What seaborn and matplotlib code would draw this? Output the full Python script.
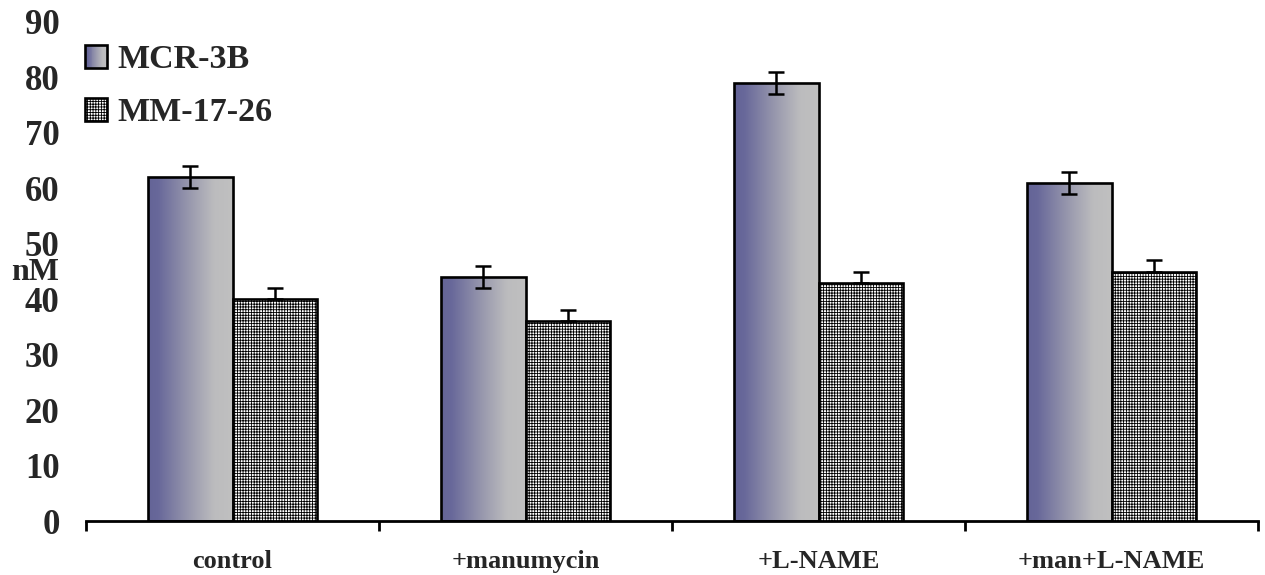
import numpy as np
import pandas as pd
import matplotlib
matplotlib.use("Agg")
import matplotlib.pyplot as plt
import seaborn as sns
from matplotlib.colors import LinearSegmentedColormap
from matplotlib.patches import Rectangle, Patch
from matplotlib.legend_handler import HandlerBase

# ---- data -------------------------------------------------------------
treatments = ["control", "+manumycin", "+L-NAME", "+man+L-NAME"]
series = ["MCR-3B", "MM-17-26"]
mcr_values = [62, 44, 79, 61]
mcr_errors = [2, 2, 2, 2]
mm_values = [40, 36, 43, 45]
mm_errors = [2, 2, 2, 2]
y_ticks = [0, 10, 20, 30, 40, 50, 60, 70, 80, 90]

df = pd.DataFrame({
    "treatment": treatments * 2,
    "line": [series[0]] * 4 + [series[1]] * 4,
    "value": mcr_values + mm_values,
})

# ---- style ------------------------------------------------------------
sns.set_style("white")
plt.rcParams["font.family"] = ["Liberation Serif", "DejaVu Serif"]
plt.rcParams["font.weight"] = "bold"
plt.rcParams["hatch.linewidth"] = 0.6
plt.rcParams["hatch.color"] = "black"

grad_cmap = LinearSegmentedColormap.from_list(
    "bluegray",
    [(0.0, "#646497"), (0.12, "#68689a"), (0.5, "#9a9aae"),
     (0.78, "#bcbcbe"), (1.0, "#c0c0c0")])
HATCH = "++++++"
EDGE_LW = 1.9

fig = plt.figure(figsize=(12.65, 5.75), dpi=100)
ax = fig.add_axes([86 / 1265, 54 / 575, 1172 / 1265, 499 / 575])

sns.barplot(data=df, x="treatment", y="value", hue="line",
            order=treatments, hue_order=series, width=0.58, gap=0,
            errorbar=None, palette=["white", "white"], ax=ax,
            edgecolor="black", linewidth=EDGE_LW, legend=False)

n = len(treatments)
bars = ax.patches[:2 * n]
mcr_bars = bars[:n]
mm_bars = bars[n:]

# gradient fill for the first series, fine grid for the second
grad = np.linspace(0, 1, 256).reshape(1, -1)
for b in mcr_bars:
    x0, y0 = b.get_x(), b.get_y()
    w, h = b.get_width(), b.get_height()
    b.set_facecolor("none")
    b.set_zorder(3)
    im = ax.imshow(grad, extent=[x0, x0 + w, y0, y0 + h], aspect="auto",
                   cmap=grad_cmap, zorder=2, interpolation="bilinear")
    im.set_clip_path(b)
for b in mm_bars:
    b.set_facecolor("white")
    b.set_hatch(HATCH)
    b.set_zorder(3)

# error bars
mcr_x = [b.get_x() + b.get_width() / 2 for b in mcr_bars]
mm_x = [b.get_x() + b.get_width() / 2 for b in mm_bars]
ax.errorbar(mcr_x, mcr_values, yerr=mcr_errors, fmt="none", ecolor="black",
            elinewidth=1.8, capsize=5.8, capthick=1.8, zorder=4)
ax.errorbar(mm_x, mm_values, yerr=[[0] * n, mm_errors], fmt="none",
            ecolor="black", elinewidth=1.8, capsize=5.8, capthick=1.8, zorder=4)

# axes
ax.set_xlim(-0.5, n - 0.5)
ax.set_ylim(0, 90)
ax.set_yticks(y_ticks)
ax.set_yticklabels([str(t) for t in y_ticks], fontsize=25, fontweight="bold")
ax.tick_params(axis="y", length=0, pad=19)
ax.set_xticks(range(n))
ax.set_xticklabels(treatments, fontsize=19, fontweight="bold")
ax.set_xticks(np.arange(-0.5, n, 1.0), minor=True)
ax.tick_params(axis="x", which="major", length=0, pad=21)
ax.tick_params(axis="x", which="minor", length=7, width=2.0,
               direction="out", color="black", bottom=True)
ax.set_xlabel("")
ax.set_ylabel("")
for side in ["top", "right", "left"]:
    ax.spines[side].set_visible(False)
ax.spines["bottom"].set_linewidth(2.0)
ax.spines["bottom"].set_color("black")

fig.text(35 / 1265, 1 - 273 / 575, "nM", fontsize=23, fontweight="bold",
         ha="center", va="center")


# legend with a gradient swatch
class GradientHandler(HandlerBase):
    def create_artists(self, legend, orig_handle, xdescent, ydescent,
                       width, height, fontsize, trans):
        x0, y0 = -xdescent, -ydescent
        k = 24
        arts = []
        for i in range(k):
            r = Rectangle((x0 + width * i / k, y0), width / k + 0.3, height,
                          facecolor=grad_cmap((i + 0.5) / k),
                          edgecolor="none", transform=trans)
            arts.append(r)
        arts.append(Rectangle((x0, y0), width, height, fill=False,
                              edgecolor="black", linewidth=EDGE_LW,
                              transform=trans))
        return arts


h1 = Patch(facecolor="#9a9aae", edgecolor="black")
h2 = Patch(facecolor="white", edgecolor="black", hatch=HATCH,
           linewidth=EDGE_LW)
leg = ax.legend([h1, h2], series, loc="upper left",
                bbox_to_anchor=(85 / 1265, 1 - 44 / 575),
                bbox_transform=fig.transFigure, frameon=False,
                prop={"family": "Liberation Serif", "weight": "bold",
                      "size": 24.5},
                handlelength=0.66, handleheight=0.66, handletextpad=0.3,
                labelspacing=0.65, borderpad=0, borderaxespad=0,
                handler_map={h1: GradientHandler()})

fig.savefig("out.png", dpi=100)
